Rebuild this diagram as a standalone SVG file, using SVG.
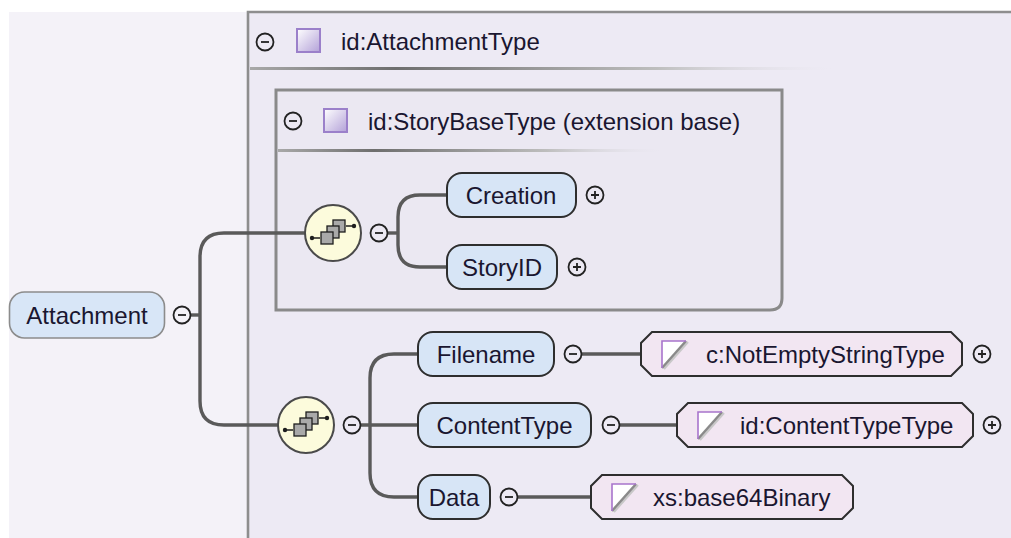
<svg xmlns="http://www.w3.org/2000/svg" width="1011" height="538" viewBox="0 0 1011 538">
<defs>
<style>
.txt{font-family:"Liberation Sans",Arial,sans-serif;font-size:24px;fill:#1a1630}
.conn{fill:none;stroke:#5a5a5a;stroke-width:3.4}
.elem{fill:#D7E5F6;stroke:#2e2e2e;stroke-width:2}
.root{fill:#D8E6F7;stroke:#8c8c8c;stroke-width:1.6}
.typ{fill:#F2E6F2;stroke:#2e2e2e;stroke-width:2}
.pm{fill:none;stroke:#222222;stroke-width:1.8}
.seq{fill:#FCFBDC;stroke:#4a4a4a;stroke-width:2}
.sq{fill:#A9A9A9;stroke:#1e1e1e;stroke-width:1.3}
.hdr{fill:url(#hdrGrad);stroke:#9B80CA;stroke-width:2}
</style>
<linearGradient id="hdrGrad" x1="0" y1="0" x2="1" y2="1">
<stop offset="0" stop-color="#FFFFFF"/>
<stop offset="1" stop-color="#B3A1D8"/>
</linearGradient>
<linearGradient id="sepGrad" x1="0" y1="0" x2="1" y2="0">
<stop offset="0" stop-color="#A8A8A8"/>
<stop offset="0.25" stop-color="#6E6E6E"/>
<stop offset="0.7" stop-color="#BEBEBE"/>
<stop offset="1" stop-color="#E6E4EC" stop-opacity="0"/>
</linearGradient>
<g id="minus"><circle r="8.5" class="pm"/><path d="M-4 0H4" class="pm"/></g>
<g id="plus"><circle r="8.5" class="pm"/><path d="M-4 0H4M0 -4V4" class="pm"/></g>
<g id="seqIcon">
<circle r="28" class="seq"/>
<path d="M-21 5H-13M13 -7H21" stroke="#1e1e1e" stroke-width="1.6"/>
<circle cx="-21" cy="5" r="2.2" fill="#1e1e1e"/>
<circle cx="21" cy="-7" r="2.2" fill="#1e1e1e"/>
<rect x="0" y="-13" width="12" height="12" class="sq"/>
<rect x="-6" y="-7" width="12" height="12" class="sq"/>
<rect x="-12" y="-1" width="12" height="12" class="sq"/>
</g>
<g id="typeIcon">
<path d="M0 27V0H24Z" fill="#FFFFFF"/>
<path d="M2 28L26 1" stroke="#C8C8C8" stroke-width="2"/>
<path d="M0 27L24 0" stroke="#8A8A8A" stroke-width="2.5"/>
<path d="M0 27V0H24" fill="none" stroke="#A874CC" stroke-width="1.6"/>
</g>
</defs>

<g id="background">
<rect x="0" y="0" width="1011" height="538" fill="#FFFFFF"/>
<rect x="9" y="12" width="1002" height="526" fill="#F4F2F8"/>
<rect x="248" y="12" width="763" height="526" fill="#EDEAF4"/>
<path d="M248 538V12H1011" fill="none" stroke="#8E8E8E" stroke-width="2.6"/>
</g>

<g id="type-AttachmentType">
<use href="#minus" x="265" y="42"/>
<rect x="297" y="29" width="23" height="23" class="hdr"/>
<text x="341" y="50" class="txt">id:AttachmentType</text>
<rect x="250" y="67" width="582" height="3" fill="url(#sepGrad)"/>
</g>

<g id="type-StoryBaseType">
<path d="M276 90H782V298Q782 310 770 310H276Z" fill="#EBE8F2" stroke="#8A8A8A" stroke-width="3"/>
<use href="#minus" x="293" y="121"/>
<rect x="324" y="109" width="23" height="23" class="hdr"/>
<text x="368" y="130" class="txt">id:StoryBaseType (extension base)</text>
<rect x="278" y="149" width="384" height="3" fill="url(#sepGrad)"/>
</g>

<g id="connectors">
<path class="conn" d="M190 315H200"/>
<path class="conn" d="M305 233H224Q200 233 200 257V401Q200 425 224 425H278"/>
<path class="conn" d="M387 233H398"/>
<path class="conn" d="M447 195H420Q398 195 398 217V245Q398 267 420 267H447"/>
<path class="conn" d="M360 425H418"/>
<path class="conn" d="M418 354H394Q370 354 370 378V473Q370 497 394 497H418"/>
<path class="conn" d="M581 354H641"/>
<path class="conn" d="M619 425H677"/>
<path class="conn" d="M517 497H591"/>
</g>

<g id="node-Attachment">
<rect x="9.5" y="292" width="155" height="46" rx="15" class="root"/>
<text x="87" y="323.5" text-anchor="middle" class="txt">Attachment</text>
<use href="#minus" x="182" y="315"/>
</g>

<g id="node-sequence1">
<use href="#seqIcon" x="333" y="233"/>
<use href="#minus" x="379" y="233"/>
</g>

<g id="node-Creation">
<rect x="447" y="173" width="129" height="44" rx="15" class="elem"/>
<text x="511" y="203.5" text-anchor="middle" class="txt">Creation</text>
<use href="#plus" x="595" y="195"/>
</g>

<g id="node-StoryID">
<rect x="447" y="245" width="110" height="44" rx="15" class="elem"/>
<text x="502" y="275.5" text-anchor="middle" class="txt">StoryID</text>
<use href="#plus" x="577" y="267"/>
</g>

<g id="node-sequence2">
<use href="#seqIcon" x="306" y="425"/>
<use href="#minus" x="352" y="425"/>
</g>

<g id="node-Filename">
<rect x="418" y="332" width="136" height="44" rx="15" class="elem"/>
<text x="486" y="362.5" text-anchor="middle" class="txt">Filename</text>
<use href="#minus" x="573" y="354"/>
</g>

<g id="node-NotEmptyStringType">
<path d="M652 332H951L962 343V365L951 376H652L641 365V343Z" class="typ"/>
<use href="#typeIcon" x="662" y="341"/>
<text x="706" y="362.5" class="txt">c:NotEmptyStringType</text>
<use href="#plus" x="982" y="354"/>
</g>

<g id="node-ContentType">
<rect x="418" y="403" width="173" height="44" rx="15" class="elem"/>
<text x="504.5" y="433.5" text-anchor="middle" class="txt">ContentType</text>
<use href="#minus" x="611" y="425"/>
</g>

<g id="node-ContentTypeType">
<path d="M688 403H962L973 414V436L962 447H688L677 436V414Z" class="typ"/>
<use href="#typeIcon" x="698" y="412"/>
<text x="740" y="433.5" class="txt">id:ContentTypeType</text>
<use href="#plus" x="992" y="425"/>
</g>

<g id="node-Data">
<rect x="418" y="475" width="72" height="44" rx="15" class="elem"/>
<text x="454" y="505.5" text-anchor="middle" class="txt">Data</text>
<use href="#minus" x="509" y="497"/>
</g>

<g id="node-base64Binary">
<path d="M602 475H842L853 486V508L842 519H602L591 508V486Z" class="typ"/>
<use href="#typeIcon" x="612" y="484"/>
<text x="653" y="505.5" class="txt">xs:base64Binary</text>
</g>
</svg>
